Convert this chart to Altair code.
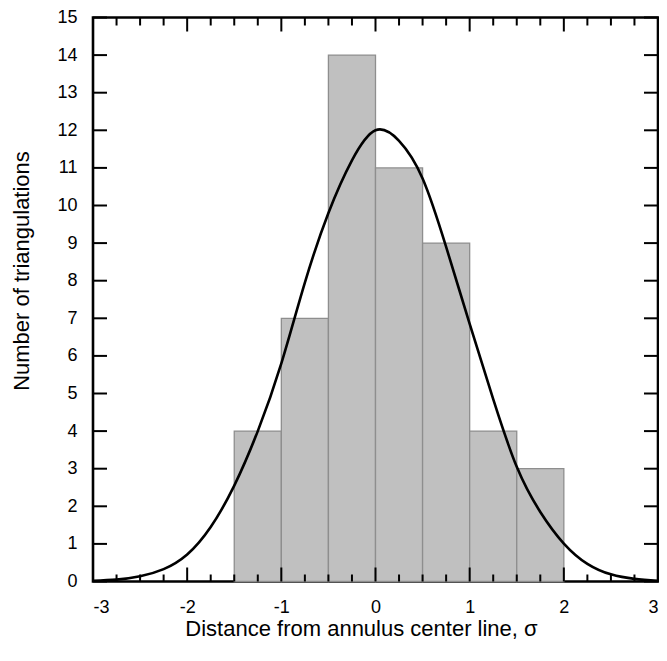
import altair as alt
import pandas as pd

# Histogram bins
bin_left = [-1.5, -1.0, -0.5, 0.0, 0.5, 1.0, 1.5]
bin_right = [-1.0, -0.5, 0.0, 0.5, 1.0, 1.5, 2.0]
counts = [4, 7, 14, 11, 9, 4, 3]

# Fitted curve
curve_x = [-3.0, -2.75, -2.5, -2.25, -2.0, -1.75, -1.5, -1.25, -1.0, -0.75, -0.5,
           -0.25, 0.0, 0.25, 0.5, 0.75, 1.0, 1.25, 1.5, 1.75, 2.0, 2.25,
           2.5, 2.75, 3.0]
curve_y = [0.02, 0.05, 0.14, 0.33, 0.72, 1.45, 2.55, 4.0, 5.8, 7.95, 9.8,
           11.2, 12.0, 11.72, 10.72, 8.9, 6.85, 4.85, 3.05, 1.85, 1.01, 0.47,
           0.19, 0.07, 0.02]

# Ticks
x_major = [-3, -2, -1, 0, 1, 2, 3]
x_minor = [-2.75, -2.5, -2.25, -1.75, -1.5, -1.25, -0.75, -0.5, -0.25,
           0.25, 0.5, 0.75, 1.25, 1.5, 1.75, 2.25, 2.5, 2.75]
y_ticks = list(range(0, 16))

W, H = 565, 564
FONT = "Liberation Sans"

bars_df = pd.DataFrame({"x0": bin_left, "x1": bin_right, "n": counts})
curve_df = pd.DataFrame({"x": curve_x, "y": curve_y})
xmaj_df = pd.DataFrame({"v": x_major})
xmin_df = pd.DataFrame({"v": x_minor})
yt_df = pd.DataFrame({"v": y_ticks})

xs = alt.Scale(domain=[-3, 3], nice=False, zero=False)
ys = alt.Scale(domain=[0, 15], nice=False, zero=True)

x_axis = alt.Axis(values=x_major, ticks=False, tickSize=0, domain=False, grid=False,
                  labelExpr="'' + datum.value",
                  labelFontSize=18, labelFont=FONT, labelColor="black", labelPadding=17,
                  title="Distance from annulus center line, σ", titleFont=FONT,
                  titleFontSize=22, titleFontWeight="normal", titleColor="black",
                  titleX=268, titleY=54, titleBaseline="alphabetic", titleAlign="center")
y_axis = alt.Axis(values=y_ticks, ticks=False, tickSize=0, domain=False, grid=False,
                  labelExpr="'' + datum.value",
                  labelFontSize=18, labelFont=FONT, labelColor="black", labelPadding=16,
                  title="Number of triangulations", titleFont=FONT,
                  titleFontSize=22, titleFontWeight="normal", titleColor="black",
                  titleX=-65, titleY=253, titleAngle=270, titleBaseline="alphabetic",
                  titleAlign="center")

bars = alt.Chart(bars_df).mark_rect(fill="#c0c0c0", stroke="#8e8e8e", strokeWidth=1.3).encode(
    x=alt.X("x0:Q", scale=xs, axis=x_axis),
    x2="x1:Q",
    y=alt.Y("n:Q", scale=ys, axis=y_axis),
    y2=alt.datum(0),
)

curve = alt.Chart(curve_df).mark_line(color="black", strokeWidth=2.6, interpolate="natural").encode(
    x=alt.X("x:Q", scale=xs, axis=x_axis),
    y=alt.Y("y:Q", scale=ys, axis=y_axis),
)

def xticks(df, y0, y1):
    return alt.Chart(df).mark_rule(color="black", strokeWidth=2).encode(
        x=alt.X("v:Q", scale=xs, axis=x_axis),
        y=alt.value(y0), y2=alt.value(y1),
    )

def yticks(df, x0, x1):
    return alt.Chart(df).mark_rule(color="black", strokeWidth=2).encode(
        y=alt.Y("v:Q", scale=ys, axis=y_axis),
        x=alt.value(x0), x2=alt.value(x1),
    )

layers = [
    bars, curve,
    xticks(xmaj_df, H, H - 14), xticks(xmin_df, H, H - 7),
    xticks(xmaj_df, 0, 14), xticks(xmin_df, 0, 8),
    yticks(yt_df, 0, 14), yticks(yt_df, W, W - 14),
]

chart = alt.layer(*layers).properties(
    width=W, height=H,
    autosize=alt.AutoSizeParams(type="none"),
    padding={"left": 85, "top": 9.5, "right": 1, "bottom": 68},
    background="white",
).configure_view(stroke="black", strokeWidth=2.6)

chart.save("out.html", embed_options={"renderer": "svg", "actions": False})
